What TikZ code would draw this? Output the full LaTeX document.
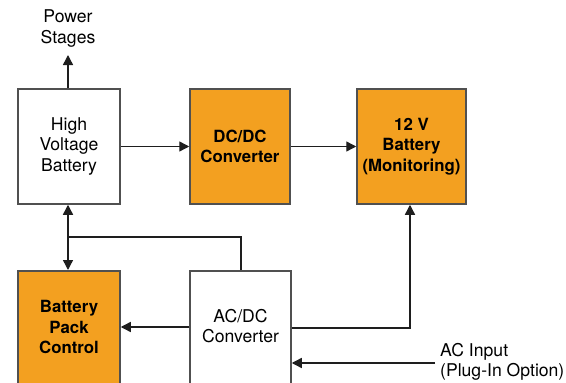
\documentclass[tikz,border=0pt]{standalone}
\usepackage{fontspec}
\setmainfont{TeX Gyre Heros}
\usetikzlibrary{arrows.meta}
\definecolor{boxorange}{RGB}{243,160,32}
\definecolor{boxline}{RGB}{80,80,80}
\definecolor{wire}{RGB}{30,30,30}
\tikzset{
  regfont/.style={font=\fontsize{17.6}{20.5}\selectfont},
  boldfont/.style={font=\fontsize{16.8}{20.5}\selectfont\bfseries},
  box/.style={draw=boxline, line width=1.5pt, rectangle, inner sep=0pt, align=center, regfont},
  obox/.style={box, fill=boxorange, boldfont},
  lbl/.style={align=center, inner sep=0pt, regfont},
  wireline/.style={draw=wire, line width=1.4pt},
  arr/.style={wireline, -{Triangle[length=10pt,width=10pt]}},
  darr/.style={wireline, {Triangle[length=10pt,width=10pt]}-{Triangle[length=10pt,width=10pt]}}
}
\begin{document}
\begin{tikzpicture}[x=1pt,y=-1pt]
\useasboundingbox (0,0) rectangle (566,383);
\clip (0,0) rectangle (566,383);
% boxes
\node[box, minimum width=102, minimum height=115] (hv) at (69,146.5) {High\\Voltage\\Battery};
\node[obox, minimum width=100, minimum height=115] (dc) at (240,146.5) {DC/DC\\Converter};
\node[obox, minimum width=109, minimum height=115] (bat) at (411.5,146.5) {12 V\\Battery\\(Monitoring)};
\node[obox, minimum width=102, minimum height=130, anchor=north] (bpc) at (69,270) {};
\node[lbl, boldfont] (bpct) at (69,327) {Battery\\Pack\\Control};
\node[box, fill=white, minimum width=101, minimum height=130, anchor=north] (acdc) at (240.5,270) {};
\node[lbl] (acdct) at (240.5,326) {AC/DC\\Converter};
% labels
\node[lbl] (ps) at (68,28.5) {Power\\Stages};
\node[lbl, align=left, anchor=west] (aci) at (440,362) {AC Input\\(Plug-In Option)};
% coordinates
\coordinate (pstip) at (68,55);
\coordinate (junc) at (68,237);
\coordinate (accorner) at (241,237);
\coordinate (c12) at (410,328);
\coordinate (acin) at (435,363);
% connectors
\draw[arr] (hv.north -| pstip) -- (pstip);
\draw[arr] (hv.east) -- (dc.west);
\draw[arr] (dc.east) -- (bat.west);
\draw[darr] (hv.south -| junc) -- (bpc.north -| junc);
\draw[wireline] (junc) -- (accorner) -- (acdc.north -| accorner);
\draw[arr] (acdc.west |- 0,327) -- (bpc.east |- 0,327);
\draw[arr] (acdc.east |- c12) -- (c12) -- (bat.south -| c12);
\draw[arr] (acin) -- (acdc.east |- acin);
\end{tikzpicture}
\end{document}
